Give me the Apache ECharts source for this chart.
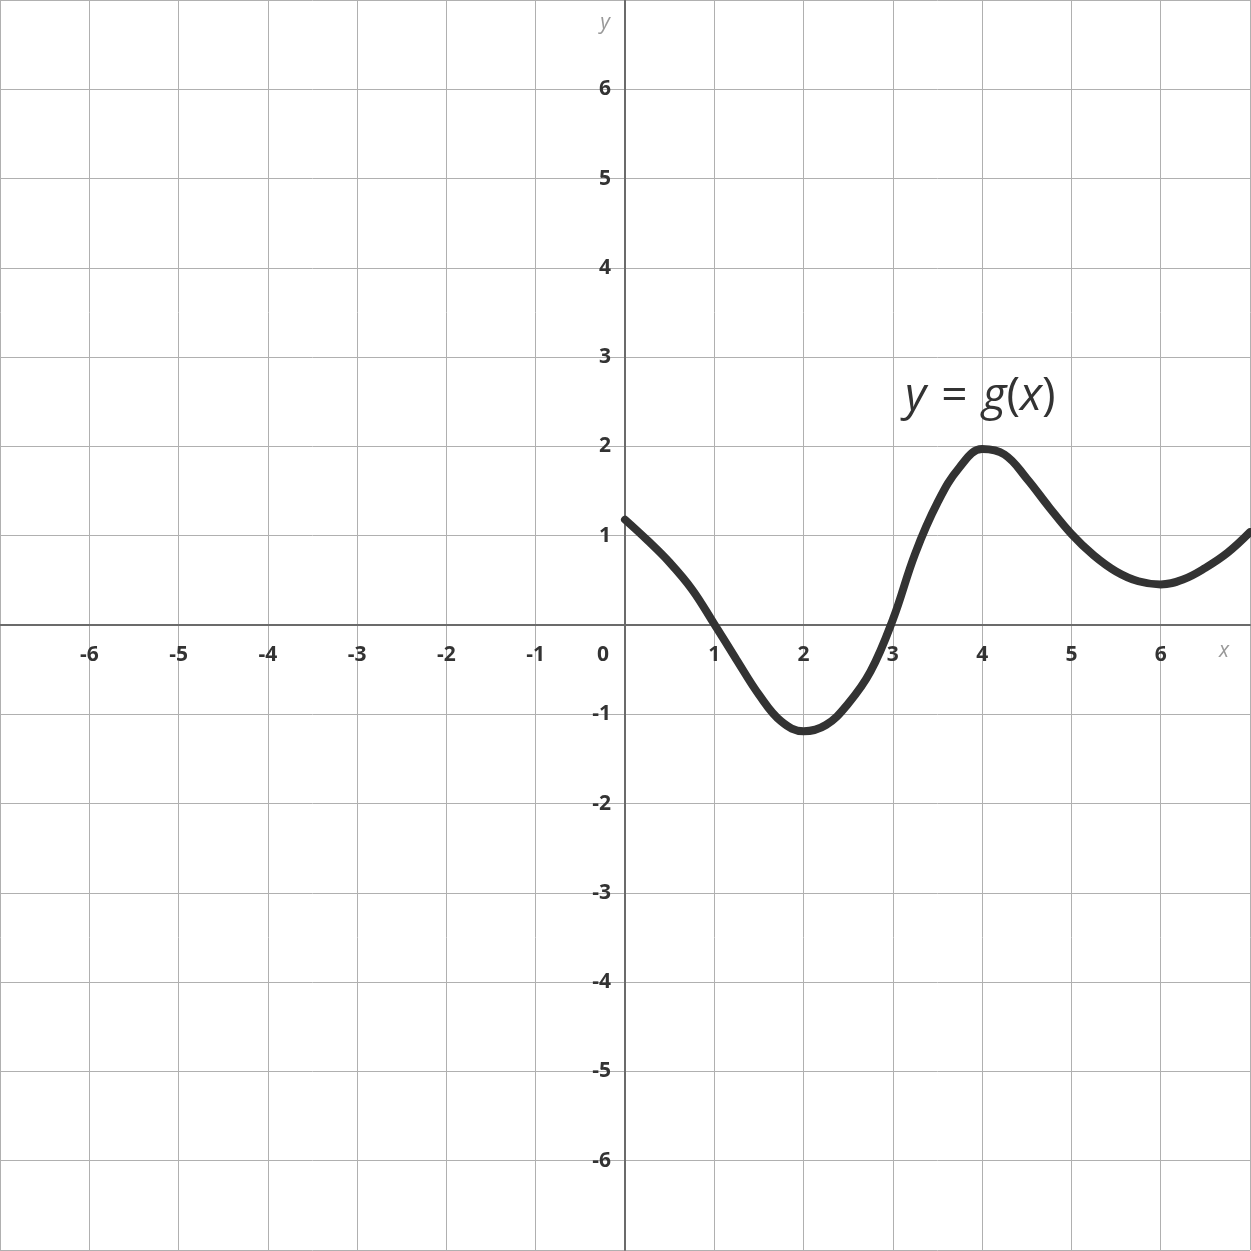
<!DOCTYPE html>
<html>
<head>
<meta charset="utf-8">
<script src="https://cdn.jsdelivr.net/npm/echarts@6/dist/echarts.min.js"></script>
<style>html,body{margin:0;padding:0;background:#fff}#c{width:1251px;height:1251px}</style>
</head>
<body>
<div id="c"></div>
<script>
const xValues = [0, 0.25, 0.5, 0.75, 1.0, 1.25, 1.5, 1.75, 2.0, 2.25, 2.5, 2.75, 3.0, 3.25, 3.5, 3.75, 4.0, 4.25, 4.5, 4.75, 5.0, 5.25, 5.5, 5.75, 6.0, 6.25, 6.5, 6.75, 7.0];
const yValues = [1.18, 0.95, 0.70, 0.40, 0.01, -0.39, -0.78, -1.08, -1.19, -1.12, -0.88, -0.52, 0.06, 0.80, 1.37, 1.77, 1.97, 1.91, 1.64, 1.32, 1.02, 0.78, 0.60, 0.49, 0.455, 0.51, 0.64, 0.81, 1.04];
const axisMin = -7, axisMax = 7, axisStep = 1;
const curveLabel = 'y = g(x)';

const fontFamily = '"Open Sans", Lato, sans-serif';
const chart = echarts.init(document.getElementById('c'), null, {renderer: 'canvas'});
const pts = xValues.map((x, i) => [x, yValues[i]]);

function fmt(v) {
  if (v === axisMin || v === axisMax || v === 0) return '';
  return String(v);
}

chart.setOption({
  animation: false,
  backgroundColor: '#fff',
  grid: {left: 0, right: 1, top: 0, bottom: 1, containLabel: false, outerBoundsMode: 'none'},
  xAxis: {
    type: 'value', min: axisMin, max: axisMax, interval: axisStep,
    position: 'bottom', offset: -625,
    name: 'x', nameLocation: 'end', nameGap: -31,
    nameTextStyle: {color: '#999', fontStyle: 'italic', fontSize: 21, fontFamily, verticalAlign: 'top', padding: [16, 0, 0, 0]},
    axisLine: {onZero: false, lineStyle: {color: '#6b6b6b', width: 2}},
    axisTick: {show: false},
    axisLabel: {
      color: '#333', fontSize: 21, fontWeight: 'bold', fontFamily, margin: 20,
      formatter: v => v === 0 ? '{z|0}' : fmt(v),
      rich: {z: {color: '#333', fontSize: 21, fontWeight: 'bold', fontFamily, padding: [0, 44, 0, 0]}}
    },
    splitLine: {show: true, lineStyle: {color: '#b0b0b0', width: 1}}
  },
  yAxis: {
    type: 'value', min: axisMin, max: axisMax, interval: axisStep,
    position: 'left', offset: -625,
    name: 'y', nameLocation: 'end', nameGap: -34,
    nameTextStyle: {color: '#999', fontStyle: 'italic', fontSize: 21, fontFamily, padding: [0, 40, 0, 0]},
    axisLine: {onZero: false, lineStyle: {color: '#6b6b6b', width: 2}},
    axisTick: {show: false},
    axisLabel: {color: '#333', fontSize: 21, fontWeight: 'bold', fontFamily, margin: 14, formatter: fmt},
    splitLine: {show: true, lineStyle: {color: '#b0b0b0', width: 1}}
  },
  series: [{
    type: 'line',
    data: pts,
    smooth: 0.4,
    symbol: 'none',
    lineStyle: {color: '#333', width: 8, cap: 'round'},
    z: 5,
    markPoint: {
      symbol: 'circle', symbolSize: 0,
      data: [{coord: [3.98, 2.55], value: curveLabel}],
      label: {
        show: true, position: 'inside',
        formatter: '{i|y}{e|=}{i|g}{n|(}{i|x}{n|)}',
        rich: {
          i: {fontSize: 46, fontStyle: 'italic', fontWeight: 500, color: '#333', fontFamily},
          n: {fontSize: 46, fontWeight: 500, color: '#333', fontFamily},
          e: {fontSize: 46, fontWeight: 500, color: '#333', fontFamily, padding: [0, 15, 0, 15]}
        }
      }
    }
  }]
});
</script>
</body>
</html>
